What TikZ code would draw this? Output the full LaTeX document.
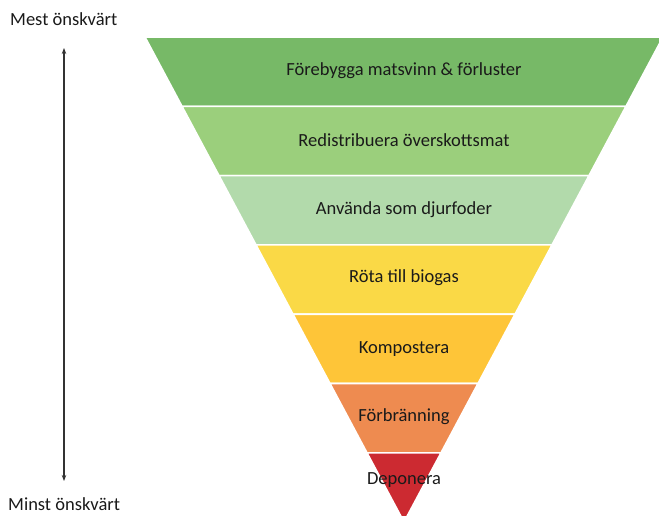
\documentclass[tikz,border=0pt]{standalone}
\usepackage{fontspec}
\setmainfont{Carlito}
\usetikzlibrary{arrows.meta}
\definecolor{cA}{HTML}{77B967}
\definecolor{cB}{HTML}{9BCF7C}
\definecolor{cC}{HTML}{B2DAAB}
\definecolor{cD}{HTML}{FAD946}
\definecolor{cE}{HTML}{FEC538}
\definecolor{cF}{HTML}{EE8B50}
\definecolor{cG}{HTML}{CC2A31}
\definecolor{txt}{HTML}{1A1A1A}
\tikzset{
  band/.style={draw=white, line width=1.6pt, line join=miter},
  lbl/.style={text=txt, font=\fontsize{18.5}{22}\selectfont, inner sep=0pt},
  side/.style={text=txt, font=\fontsize{18.5}{22}\selectfont, inner sep=0pt, anchor=west},
}
\begin{document}
\begin{tikzpicture}[x=1pt,y=-1pt]
\useasboundingbox (0,0) rectangle (659,515);
\fill[white] (0,0) rectangle (659,515);
% bands
\fill[cA, band] (145,37) -- (663,37) -- (626,106.3) -- (182,106.3) -- cycle;
\fill[cB, band] (182,106.3) -- (626,106.3) -- (589,175.6) -- (219,175.6) -- cycle;
\fill[cC, band] (219,175.6) -- (589,175.6) -- (552,244.9) -- (256,244.9) -- cycle;
\fill[cD, band] (256,244.9) -- (552,244.9) -- (515,314.2) -- (293,314.2) -- cycle;
\fill[cE, band] (293,314.2) -- (515,314.2) -- (478,383.5) -- (330,383.5) -- cycle;
\fill[cF, band] (330,383.5) -- (478,383.5) -- (441,452.8) -- (367,452.8) -- cycle;
\fill[cG, band] (367,452.8) -- (441,452.8) -- (404,522) -- cycle;
% labels
\node[lbl] (t1) at (404,71) {Förebygga matsvinn \& förluster};
\node[lbl] (t2) at (404,140) {Redistribuera överskottsmat};
\node[lbl] (t3) at (404,210) {Använda som djurfoder};
\node[lbl] (t4) at (404,278) {Röta till biogas};
\node[lbl] (t5) at (404,349) {Kompostera};
\node[lbl] (t6) at (404,417) {Förbränning};
\node[lbl] (t7) at (404,480) {Deponera};
% side
\node[side] (most) at (10,19) {Mest önskvärt};
\node[side] (least) at (8,504) {Minst önskvärt};
\coordinate (atop) at (64,48);
\coordinate (abot) at (64,481);
\draw[{Stealth[length=6pt,width=4.5pt]}-{Stealth[length=6pt,width=4.5pt]}, line width=1.4pt, color=black!80] (abot) -- (atop);
\end{tikzpicture}
\end{document}
